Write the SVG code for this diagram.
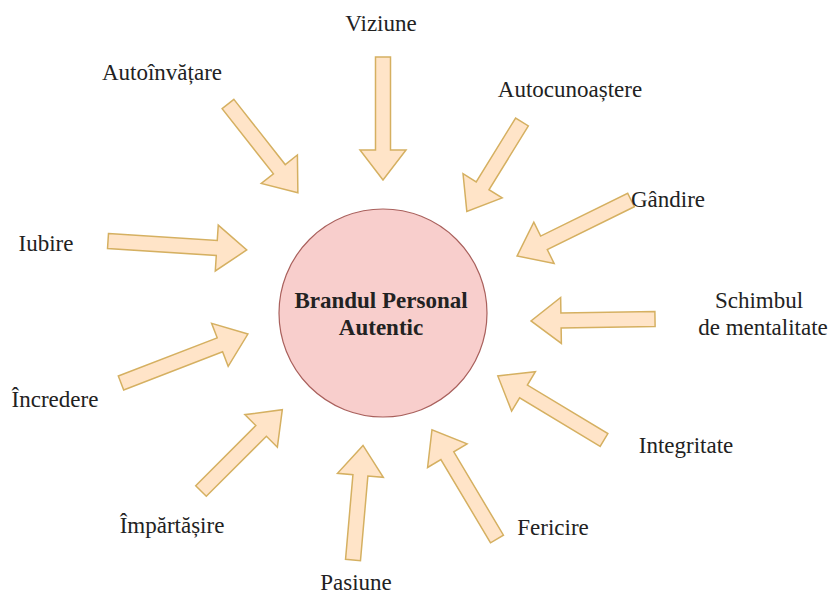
<svg xmlns="http://www.w3.org/2000/svg" width="830" height="597" viewBox="0 0 830 597">
  <style>
    .lbl { font-family: 'Liberation Serif', 'DejaVu Serif', serif; font-size: 23px; fill: #222; text-anchor: middle; }
    .core { font-family: 'Liberation Serif', 'DejaVu Serif', serif; font-size: 23px; font-weight: bold; fill: #222; text-anchor: middle; }
    .arrow { fill: #ffe4c8; stroke: #d5b061; stroke-width: 1.5; stroke-linejoin: miter; }
  </style>
  <rect width="830" height="597" fill="#ffffff"/>

  <!-- block arrows pointing towards the centre -->
  <g id="connectors">
    <polygon class="arrow" transform="translate(383,57) rotate(90)" points="0,-7.5 93,-7.5 93,-23 123,0 93,23 93,7.5 0,7.5"/>
    <polygon class="arrow" transform="translate(228,104) rotate(51.8)" points="0,-7.5 83,-7.5 83,-23 113,0 83,23 83,7.5 0,7.5"/>
    <polygon class="arrow" transform="translate(522,122) rotate(121.7)" points="0,-7.5 75,-7.5 75,-23 105,0 75,23 75,7.5 0,7.5"/>
    <polygon class="arrow" transform="translate(631,200) rotate(153.8)" points="0,-7.5 97,-7.5 97,-23 127,0 97,23 97,7.5 0,7.5"/>
    <polygon class="arrow" transform="translate(655,319) rotate(179.1)" points="0,-7.5 94,-7.5 94,-23 124,0 94,23 94,7.5 0,7.5"/>
    <polygon class="arrow" transform="translate(604,440) rotate(211.1)" points="0,-7.5 94,-7.5 94,-23 124,0 94,23 94,7.5 0,7.5"/>
    <polygon class="arrow" transform="translate(497,539) rotate(-120.8)" points="0,-7.5 97,-7.5 97,-23 127,0 97,23 97,7.5 0,7.5"/>
    <polygon class="arrow" transform="translate(353,560) rotate(-85)" points="0,-7.5 85,-7.5 85,-23 115,0 85,23 85,7.5 0,7.5"/>
    <polygon class="arrow" transform="translate(201,491) rotate(-45)" points="0,-7.5 85,-7.5 85,-23 115,0 85,23 85,7.5 0,7.5"/>
    <polygon class="arrow" transform="translate(121,383) rotate(-21.1)" points="0,-7.5 106,-7.5 106,-23 136,0 106,23 106,7.5 0,7.5"/>
    <polygon class="arrow" transform="translate(108,241) rotate(3.7)" points="0,-7.5 109,-7.5 109,-23 139,0 109,23 109,7.5 0,7.5"/>
  </g>

  <g id="brand">
    <circle cx="383" cy="313" r="104" fill="#f8cecc" stroke="#a9605c" stroke-width="1.2"/>
    <text class="core" x="381" y="308">Brandul Personal</text>
    <text class="core" x="381" y="335">Autentic</text>
  </g>

  <g id="viziune"><text class="lbl" x="381" y="31">Viziune</text></g>
  <g id="autoinvatare"><text class="lbl" x="162" y="80">Autoînvățare</text></g>
  <g id="autocunoastere"><text class="lbl" x="570" y="97">Autocunoaștere</text></g>
  <g id="gandire"><text class="lbl" x="668" y="207">Gândire</text></g>
  <g id="iubire"><text class="lbl" x="46" y="251">Iubire</text></g>
  <g id="schimbul">
    <text class="lbl" x="759" y="308">Schimbul</text>
    <text class="lbl" x="763" y="335">de mentalitate</text>
  </g>
  <g id="incredere"><text class="lbl" x="55" y="407">Încredere</text></g>
  <g id="integritate"><text class="lbl" x="686" y="453">Integritate</text></g>
  <g id="impartasire"><text class="lbl" x="172" y="533">Împărtășire</text></g>
  <g id="fericire"><text class="lbl" x="553" y="535">Fericire</text></g>
  <g id="pasiune"><text class="lbl" x="356" y="590">Pasiune</text></g>
</svg>
